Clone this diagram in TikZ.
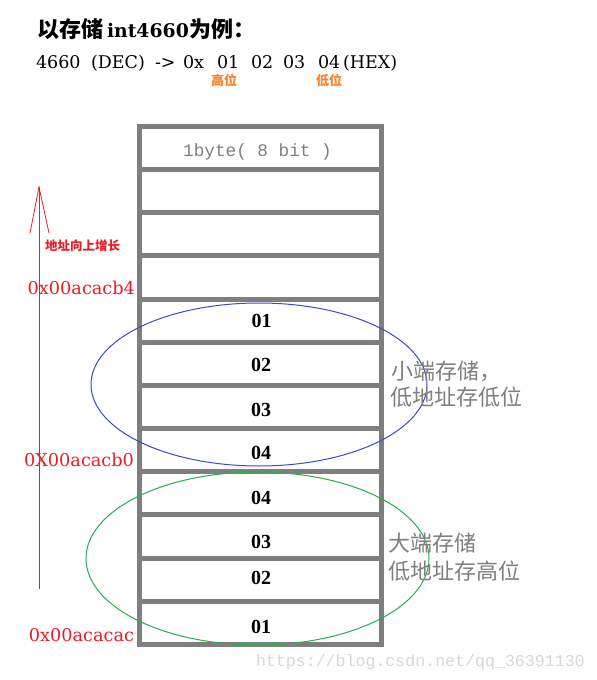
\documentclass[tikz,border=0pt]{standalone}
\usepackage{fontspec}
\setmainfont{Liberation Serif}
\setmonofont{Liberation Mono}
\newfontfamily\cjk{Noto Sans CJK SC}
\newfontfamily\dvs{DejaVu Serif}
\definecolor{boxgray}{RGB}{127,127,127}
\definecolor{pred}{RGB}{237,28,36}
\definecolor{porange}{RGB}{255,127,39}
\definecolor{pblue}{RGB}{63,72,204}
\definecolor{pgreen}{RGB}{34,177,76}
\definecolor{wmgray}{RGB}{215,215,215}
\newcommand\fsz[1]{\fontsize{#1}{#1}\selectfont}
\begin{document}
\begin{tikzpicture}[x=1pt,y=-1pt,
  every node/.style={inner sep=0pt,outer sep=0pt},
  cell/.style={draw=boxgray,line width=5pt,minimum width=242pt,minimum height=43.15pt,inner sep=0pt},
  val/.style={font=\fsz{20}\bfseries},
  addr/.style={text=pred,font=\dvs\fsz{17.7},anchor=base east},
  note/.style={text=boxgray,font=\cjk\fsz{22},anchor=base west},
  hexline/.style={font=\dvs\fsz{17.5},anchor=base west},
  posmark/.style={font=\cjk\bfseries\fsz{13},text=porange,anchor=base west}]
\useasboundingbox (0,0) rectangle (597,680);
% memory cells
\foreach \k in {0,...,11}
  \node[cell] (c\k) at (260.5,{148.08+43.15*\k}) {};
% ellipses
\draw[pblue,line width=1pt] (259,384.5) ellipse [x radius=168,y radius=81.5];
\draw[pgreen,line width=1pt] (257.5,558.5) ellipse [x radius=171.5,y radius=86.5];
% title
\node[anchor=base west,font=\cjk\bfseries\fsz{22}] (t1) at (37,37) {以存储};
\node[anchor=base west,font=\dvs\bfseries\fsz{18.8}] (t2) at (107,37) {int4660};
\node[anchor=base west,font=\cjk\bfseries\fsz{22}] (t3) at (189,37) {为例：};
% hex line
\node[hexline] (h1) at (36,68) {4660};
\node[hexline] (h2) at (91,68) {(DEC)};
\node[hexline] (h3) at (155,68) {->};
\node[hexline] (h4) at (183,68) {0x};
\node[hexline] (h5) at (217,68) {01};
\node[hexline] (h6) at (251,68) {02};
\node[hexline] (h7) at (283,68) {03};
\node[hexline] (h8) at (318,68) {04};
\node[hexline] (h9) at (343,68) {(HEX)};
\node[posmark] (hi) at (211,85) {高位};
\node[posmark] (lo) at (316,85) {低位};
% header cell text
\node[font=\ttfamily\fsz{17.7},text=boxgray,anchor=base] (hdr) at (257.5,156) {1byte( 8 bit )};
% values
\node[val] (v4) at (261.5,321) {01};
\node[val] (v5) at (261,365) {02};
\node[val] (v6) at (261,409.5) {03};
\node[val] (v7) at (261,452.5) {04};
\node[val] (v8) at (261,498) {04};
\node[val] (v9) at (261,541.5) {03};
\node[val] (v10) at (261,577.5) {02};
\node[val] (v11) at (261,626.5) {01};
% addresses
\node[addr] (a1) at (135,294) {0x00acacb4};
\node[addr] (a2) at (134,466) {0X00acacb0};
\node[addr] (a3) at (134,641) {0x00acacac};
% growth arrow
\coordinate (atail) at (39,589);
\coordinate (atip) at (39,187);
\coordinate (hl) at (30,233);
\coordinate (hr) at (49,233);
\draw[pred,line width=1pt] (atail) -- (atip);
\draw[pred,line width=0.8pt] (hl) -- (atip) -- (hr);
\node[anchor=base west,font=\cjk\bfseries\fsz{12.5},text=pred] (grow) at (45,250) {地址向上增长};
% notes
\node[note] (n1) at (391,379) {小端存储，};
\node[note] (n2) at (390,405) {低地址存低位};
\node[note] (n3) at (388,551) {大端存储};
\node[note] (n4) at (388,579) {低地址存高位};
% watermark
\node[anchor=base west,font=\ttfamily\fsz{16.6},text=wmgray] (wm) at (256,666) {https://blog.csdn.net/qq\_36391130};
\end{tikzpicture}
\end{document}
